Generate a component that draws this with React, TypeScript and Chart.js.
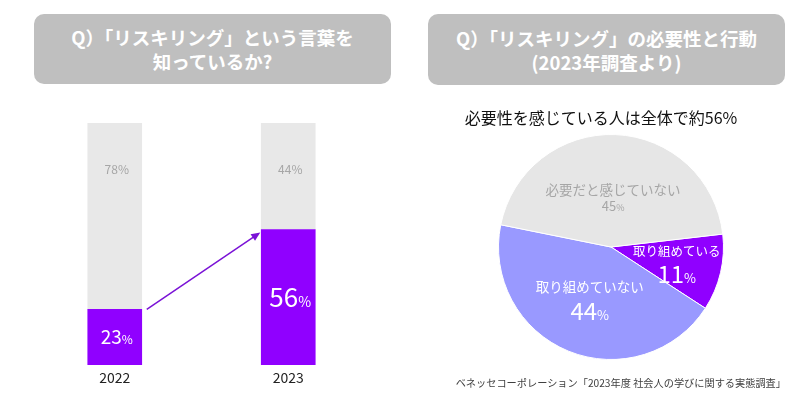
import React, { useEffect, useRef } from "react";
import { Chart, registerables } from "chart.js";
Chart.register(...registerables);

const years = ["2022", "2023"];
const aware = [23, 56];
const notAware = [78, 44];
const pieLabels = ["取り組めている", "取り組めていない", "必要だと感じていない"];
const pieValues = [11, 44, 45];

const FONT = '"Noto Sans CJK JP", "Noto Sans", sans-serif';
const PURPLE = "#9000ff";
const LAVENDER = "#9999ff";
const BAR_GRAY = "#e8e8e8";
const PIE_GRAY = "#e6e6e6";

function drawNumPct(ctx: CanvasRenderingContext2D, num: string, cx: number, cy: number, numSize: number, pctSize: number, color: string) {
  ctx.save();
  ctx.fillStyle = color;
  ctx.textBaseline = "alphabetic";
  ctx.textAlign = "left";
  ctx.font = `${numSize}px ${FONT}`;
  const w1 = ctx.measureText(num).width;
  ctx.font = `${pctSize}px ${FONT}`;
  const w2 = ctx.measureText("%").width;
  const x0 = cx - (w1 + w2) / 2;
  const base = cy + numSize * 0.36;
  ctx.font = `${numSize}px ${FONT}`;
  ctx.fillText(num, x0, base);
  ctx.font = `${pctSize}px ${FONT}`;
  ctx.fillText("%", x0 + w1, base);
  ctx.restore();
}

const barLabelPlugin = {
  id: "barLabels",
  afterDatasetsDraw(chart: any) {
    const ctx: CanvasRenderingContext2D = chart.ctx;
    const area = chart.chartArea;
    const m0 = chart.getDatasetMeta(0).data;
    const m1 = chart.getDatasetMeta(1).data;
    const purpleSizes = [[19, 12], [26, 14]];
    years.forEach((yr, i) => {
      const p = m0[i];
      const g = m1[i];
      drawNumPct(ctx, String(aware[i]), p.x + 2, (p.y + p.base) / 2, purpleSizes[i][0], purpleSizes[i][1], "#ffffff");
      const gTop = Math.max(g.y, area.top);
      drawNumPct(ctx, String(notAware[i]), g.x + 2, gTop + 47, 12, 12, "#a6a6a6");
      ctx.save();
      ctx.fillStyle = "#222222";
      ctx.font = `14px ${FONT}`;
      ctx.textAlign = "center";
      ctx.textBaseline = "middle";
      ctx.fillText(yr, p.x, area.bottom + 13);
      ctx.restore();
    });
    // arrow
    const a = m0[0];
    const b = m0[1];
    const x1 = a.x + a.width / 2 + 5;
    const y1 = a.y;
    const x2 = b.x - b.width / 2 - 1;
    const y2 = b.y + 3;
    const ang = Math.atan2(y2 - y1, x2 - x1);
    ctx.save();
    ctx.strokeStyle = "#7a12d6";
    ctx.fillStyle = "#7a12d6";
    ctx.lineWidth = 1.5;
    ctx.beginPath();
    ctx.moveTo(x1, y1);
    ctx.lineTo(x2 - Math.cos(ang) * 6, y2 - Math.sin(ang) * 6);
    ctx.stroke();
    ctx.beginPath();
    ctx.moveTo(x2, y2);
    ctx.lineTo(x2 - Math.cos(ang) * 9 + Math.sin(ang) * 4, y2 - Math.sin(ang) * 9 - Math.cos(ang) * 4);
    ctx.lineTo(x2 - Math.cos(ang) * 9 - Math.sin(ang) * 4, y2 - Math.sin(ang) * 9 + Math.cos(ang) * 4);
    ctx.closePath();
    ctx.fill();
    ctx.restore();
  },
};

const pieLabelPlugin = {
  id: "pieLabels",
  afterDatasetsDraw(chart: any) {
    const ctx: CanvasRenderingContext2D = chart.ctx;
    const arcs = chart.getDatasetMeta(0).data;
    const style = [
      { frac: 0.6, color: "#ffffff", nameSize: 12.5, numSize: 24, pctSize: 13, nameOff: -11, numOff: 12 },
      { frac: 0.5, color: "#ffffff", nameSize: 13.5, numSize: 24, pctSize: 13, nameOff: -12, numOff: 12 },
      { frac: 0.44, color: "#a6a6a6", nameSize: 13.5, numSize: 13, pctSize: 9, nameOff: -8, numOff: 9 },
    ];
    arcs.forEach((arc: any, i: number) => {
      const s = style[i];
      const mid = (arc.startAngle + arc.endAngle) / 2;
      const r = arc.outerRadius * s.frac;
      const cx = arc.x + Math.cos(mid) * r;
      const cy = arc.y + Math.sin(mid) * r;
      ctx.save();
      ctx.fillStyle = s.color;
      ctx.font = `${s.nameSize}px ${FONT}`;
      ctx.textAlign = "center";
      ctx.textBaseline = "middle";
      ctx.fillText(pieLabels[i], cx, cy + s.nameOff);
      ctx.restore();
      drawNumPct(ctx, String(pieValues[i]), cx, cy + s.numOff, s.numSize, s.pctSize, s.color);
    });
  },
};

export default function App() {
  const barRef = useRef<HTMLCanvasElement>(null);
  const pieRef = useRef<HTMLCanvasElement>(null);

  useEffect(() => {
    const bar = new Chart(barRef.current!, {
      type: "bar",
      data: {
        labels: years,
        datasets: [
          { data: aware, backgroundColor: PURPLE, barThickness: 54 },
          { data: notAware, backgroundColor: BAR_GRAY, barThickness: 54 },
        ],
      },
      options: {
        animation: false,
        responsive: true,
        maintainAspectRatio: false,
        layout: { padding: { left: 28, right: 25, top: 123, bottom: 33 } },
        scales: {
          x: { stacked: true, display: false },
          y: { stacked: true, display: false, min: 0, max: 100 },
        },
        plugins: { legend: { display: false }, tooltip: { enabled: false } },
      },
      plugins: [barLabelPlugin],
    } as any);

    const pie = new Chart(pieRef.current!, {
      type: "pie",
      data: {
        labels: pieLabels,
        datasets: [
          {
            data: pieValues,
            backgroundColor: [PURPLE, LAVENDER, PIE_GRAY],
            borderColor: "#ffffff",
            borderWidth: 1,
          },
        ],
      },
      options: {
        animation: false,
        responsive: true,
        maintainAspectRatio: false,
        rotation: 83.4,
        layout: { padding: { left: 98, right: 76, top: 134, bottom: 38 } },
        plugins: { legend: { display: false }, tooltip: { enabled: false } },
      },
      plugins: [pieLabelPlugin],
    } as any);

    return () => {
      bar.destroy();
      pie.destroy();
    };
  }, []);

  const boxStyle: React.CSSProperties = {
    position: "absolute",
    background: "#bfbfbf",
    borderRadius: 10,
    color: "#ffffff",
    fontFamily: FONT,
    fontWeight: 700,
    fontSize: 18.5,
    lineHeight: "24px",
    display: "flex",
    flexDirection: "column",
    alignItems: "center",
    justifyContent: "center",
    textAlign: "center",
  };

  return (
    <div style={{ position: "absolute", left: 0, top: 0, width: 800, height: 398, background: "#ffffff", overflow: "hidden" }}>
      <div style={{ position: "absolute", left: 0, top: 0, width: 400, height: 398 }}>
        <canvas ref={barRef} />
      </div>
      <div style={{ position: "absolute", left: 400, top: 0, width: 400, height: 398 }}>
        <canvas ref={pieRef} />
      </div>
      <div style={{ ...boxStyle, left: 34, top: 14, width: 357, height: 70 }}>
        <div>Q）「リスキリング」という言葉を</div>
        <div>知っているか?</div>
      </div>
      <div style={{ ...boxStyle, left: 428, top: 14, width: 357, height: 71 }}>
        <div>Q）「リスキリング」の必要性と行動</div>
        <div>(2023年調査より)</div>
      </div>
      <div style={{ position: "absolute", left: 401, top: 106, width: 400, textAlign: "center", fontFamily: FONT, fontSize: 16, lineHeight: "22px", color: "#111111" }}>
        必要性を感じている人は全体で約56%
      </div>
      <div style={{ position: "absolute", left: 300, top: 375, width: 486, textAlign: "right", fontFamily: FONT, fontSize: 10.2, lineHeight: "16px", color: "#404040", whiteSpace: "nowrap" }}>
        ベネッセコーポレーション「2023年度 社会人の学びに関する実態調査」
      </div>
    </div>
  );
}
